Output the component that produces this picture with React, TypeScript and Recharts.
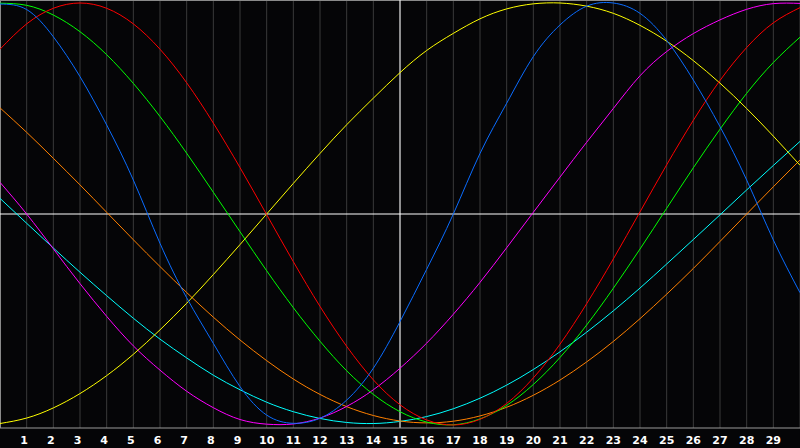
import React from "react";
import { LineChart, Line, XAxis, YAxis, CartesianGrid, ReferenceLine } from "recharts";

const X_VALUES = [0, 1, 2, 3, 4, 5, 6, 7, 8, 9, 10, 11, 12, 13, 14, 15, 16, 17, 18, 19, 20, 21, 22, 23, 24, 25, 26, 27, 28, 29, 30];
const TICKS = [1, 2, 3, 4, 5, 6, 7, 8, 9, 10, 11, 12, 13, 14, 15, 16, 17, 18, 19, 20, 21, 22, 23, 24, 25, 26, 27, 28, 29];

const YELLOW = [-0.993, -0.967, -0.919, -0.851, -0.766, -0.665, -0.549, -0.423, -0.287, -0.145, 0.0, 0.145, 0.287, 0.423, 0.549, 0.67, 0.775, 0.856, 0.925, 0.972, 0.996, 1.0, 0.985, 0.951, 0.894, 0.819, 0.727, 0.62, 0.5, 0.369, 0.231];
const RED = [0.781, 0.901, 0.975, 1.0, 0.975, 0.901, 0.781, 0.622, 0.431, 0.22, -0.003, -0.226, -0.438, -0.627, -0.786, -0.904, -0.976, -1.0, -0.973, -0.898, -0.777, -0.617, -0.425, -0.213, 0.01, 0.233, 0.444, 0.633, 0.789, 0.906, 0.978];
const GREEN = [0.999, 0.989, 0.943, 0.864, 0.755, 0.619, 0.462, 0.288, 0.103, -0.084, -0.269, -0.444, -0.603, -0.743, -0.855, -0.937, -0.986, -0.999, -0.971, -0.907, -0.808, -0.68, -0.526, -0.352, -0.166, 0.027, 0.219, 0.402, 0.572, 0.718, 0.838];
const BLUE = [0.995, 0.969, 0.84, 0.651, 0.422, 0.161, -0.139, -0.397, -0.613, -0.818, -0.953, -0.992, -0.968, -0.882, -0.731, -0.51, -0.262, 0.0, 0.287, 0.525, 0.746, 0.896, 0.985, 1.0, 0.951, 0.823, 0.635, 0.414, 0.161, -0.123, -0.373];
const MAGENTA = [0.15, 0.0, -0.165, -0.33, -0.485, -0.625, -0.74, -0.84, -0.918, -0.974, -0.996, -0.995, -0.967, -0.912, -0.833, -0.731, -0.612, -0.475, -0.324, -0.16, 0.008, 0.175, 0.34, 0.5, 0.655, 0.77, 0.855, 0.92, 0.97, 0.997, 0.998];
const CYAN = [0.074, -0.044, -0.161, -0.276, -0.387, -0.494, -0.593, -0.682, -0.764, -0.833, -0.892, -0.937, -0.969, -0.988, -0.993, -0.983, -0.96, -0.923, -0.873, -0.811, -0.737, -0.653, -0.56, -0.459, -0.351, -0.237, -0.121, -0.004, 0.114, 0.23, 0.344];
const ORANGE = [0.503, 0.387, 0.264, 0.138, 0.008, -0.122, -0.249, -0.372, -0.489, -0.597, -0.695, -0.782, -0.855, -0.913, -0.955, -0.981, -0.99, -0.982, -0.957, -0.916, -0.859, -0.787, -0.701, -0.604, -0.496, -0.38, -0.258, -0.13, 0.0, 0.129, 0.256];

const Y_MAX = 1.0142;

const SERIES = [
  { key: "cyan", values: CYAN, color: "#00ffff" },
  { key: "orange", values: ORANGE, color: "#ff8000" },
  { key: "magenta", values: MAGENTA, color: "#ff00ff" },
  { key: "yellow", values: YELLOW, color: "#ffff00" },
  { key: "green", values: GREEN, color: "#00ff00" },
  { key: "red", values: RED, color: "#ff0000" },
  { key: "blue", values: BLUE, color: "#0a6cff" },
];

const data = X_VALUES.map((x, i) => {
  const row: Record<string, number> = { x };
  SERIES.forEach((s) => {
    row[s.key] = s.values[i];
  });
  return row;
});

const Tick = (props: any) => {
  const { x, y, payload } = props;
  const shift = payload.value < 10 ? -2.5 : 0;
  return (
    <text
      x={x + shift}
      y={y}
      dy={8}
      textAnchor="middle"
      fill="#ffffff"
      fontSize={11}
      fontWeight="bold"
      fontFamily="DejaVu Sans"
    >
      {payload.value}
    </text>
  );
};

export default function App() {
  return (
    <div style={{ position: "absolute", left: 0, top: 0, width: 800, height: 448, background: "#050507" }}>
      <LineChart width={800} height={448} data={data} margin={{ top: 0, right: 0, bottom: 0, left: 0 }}>
        <CartesianGrid horizontal={false} stroke="#3a3a3a" />
        <XAxis
          dataKey="x"
          type="number"
          domain={[0, 30]}
          ticks={TICKS}
          interval={0}
          height={20}
          tickLine={false}
          axisLine={{ stroke: "#9a9a9a" }}
          tick={<Tick />}
        />
        <YAxis hide type="number" domain={[-Y_MAX, Y_MAX]} />
        <ReferenceLine y={Y_MAX} stroke="#8a8a8a" strokeWidth={2} />
        <ReferenceLine x={0} stroke="#8a8a8a" strokeWidth={2} />
        <ReferenceLine x={15} stroke="#ffffff" strokeWidth={1} />
        <ReferenceLine y={0} stroke="#ffffff" strokeWidth={1} />
        {SERIES.map((s) => (
          <Line
            key={s.key}
            dataKey={s.key}
            type="natural"
            stroke={s.color}
            strokeWidth={1}
            dot={false}
            activeDot={false}
            isAnimationActive={false}
          />
        ))}
      </LineChart>
    </div>
  );
}
